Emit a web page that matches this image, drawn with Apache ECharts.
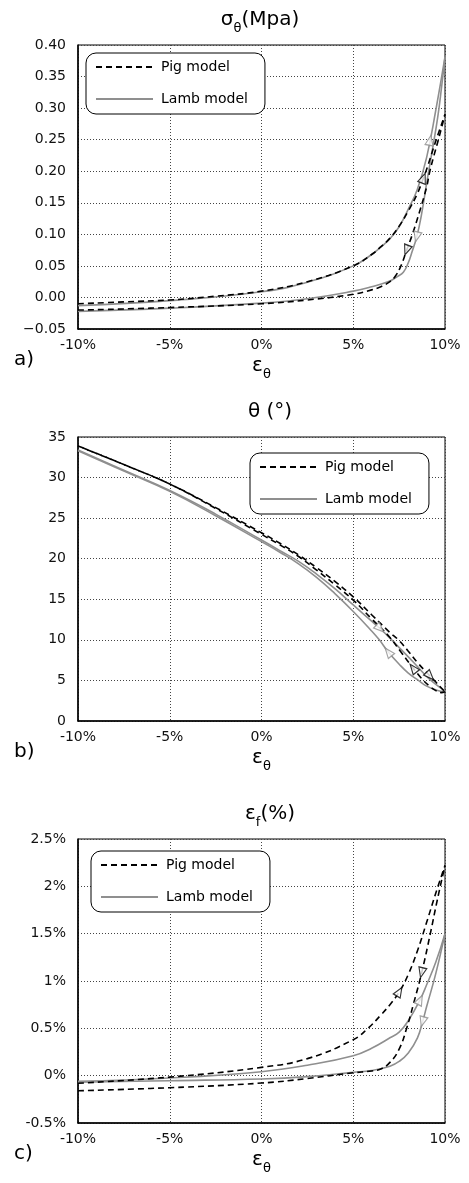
<!DOCTYPE html>
<html><head><meta charset="utf-8">
<script src="https://cdn.jsdelivr.net/npm/echarts@6/dist/echarts.min.js"></script>
<style>html,body{margin:0;padding:0;background:#fff}#c{width:469px;height:1183px}</style>
</head><body><div id="c"></div>
<script>
// ---------- DATA ----------
const xTickLabels = ['-10%', '-5%', '0%', '5%', '10%'];
const seriesNames = ['Pig model', 'Lamb model'];
const panelLetters = ['a)', 'b)', 'c)'];

// a) sigma_theta (MPa) vs eps_theta (%)
const sigmaPigLoad = [[-10,-0.010],[-7.5,-0.007],[-5,-0.004],[-2.5,0.002],[0,0.010],[2.5,0.025],[5,0.050],[6,0.068],[6.5,0.080],[7,0.094],[7.5,0.113],[8,0.137],[8.5,0.165],[8.82,0.189],[9,0.203],[9.5,0.248],[10,0.290]];
const sigmaPigUnload = [[-10,-0.020],[-5,-0.016],[0,-0.010],[2.5,-0.004],[5,0.005],[6,0.012],[6.5,0.017],[7,0.025],[7.3,0.034],[7.6,0.050],[7.91,0.075],[8.2,0.098],[8.5,0.125],[9,0.175],[9.15,0.197],[9.4,0.225],[9.64,0.250],[10,0.290]];
const sigmaLambLoad = [[-10,-0.013],[-5,-0.005],[0,0.009],[2.5,0.024],[5,0.050],[6,0.068],[6.5,0.080],[7,0.093],[7.5,0.112],[8,0.140],[8.5,0.172],[9,0.222],[9.5,0.297],[10,0.381]];
const sigmaLambUnload = [[-10,-0.022],[-5,-0.017],[0,-0.009],[2.5,-0.002],[5,0.010],[6,0.017],[7,0.026],[7.4,0.033],[7.73,0.040],[8,0.055],[8.2,0.072],[8.46,0.096],[8.7,0.128],[9.05,0.190],[9.3,0.232],[9.6,0.285],[9.8,0.330],[10,0.381]];
const sigmaArrows = [['lambLoad',9.18,1],['pigLoad',8.82,1],['lambUnload',8.46,-1],['pigUnload',7.91,-1]];

// b) theta (deg) vs eps_theta (%)
const thetaPigLoad = [[-10,33.9],[-7.5,31.6],[-5,29.2],[-2.5,26.3],[0,23.2],[1,21.9],[2,20.5],[3,18.9],[4,17.2],[5,15.3],[6,13.1],[7,10.9],[7.46,10.0],[8,8.6],[8.5,7.2],[9.18,5.55],[9.46,4.9],[9.7,4.3],[10,3.6]];
const thetaPigUnload = [[-10,33.9],[-7.5,31.6],[-5,29.2],[-2.5,26.2],[0,23.0],[1,21.7],[2,20.3],[3,18.6],[4,16.8],[5,14.9],[6,12.6],[7,10.3],[7.6,8.5],[8.27,6.5],[8.7,5.3],[9.1,4.4],[9.5,3.75],[9.8,3.5],[10,3.6]];
const thetaLambLoad = [[-10,33.4],[-7.5,30.9],[-5,28.4],[-2.5,25.5],[0,22.3],[1,21.0],[2,19.7],[3,18.1],[4,16.3],[5,14.3],[6,12.3],[6.46,11.4],[7.09,10.0],[8,7.9],[8.5,6.7],[9,5.5],[9.5,4.5],[10,3.7]];
const thetaLambUnload = [[-10,33.3],[-7.5,30.8],[-5,28.3],[-2.5,25.3],[0,22.1],[1,20.8],[2,19.4],[3,17.7],[4,15.7],[5,13.5],[6,11.1],[6.42,10.0],[6.91,8.5],[7.5,7.0],[8,5.9],[8.55,5.0],[9,4.3],[9.55,3.8],[10,3.6]];
const thetaArrows = [['pigLoad',9.18,1],['pigUnload',8.27,-1],['lambLoad',6.46,1],['lambUnload',6.91,-1]];

// c) eps_f (%) vs eps_theta (%)
const efPigLoad = [[-10,-0.08],[-5,-0.015],[0,0.088],[2.5,0.18],[5,0.38],[5.8,0.50],[6.5,0.64],[7,0.75],[7.51,0.887],[8,1.07],[8.5,1.32],[9,1.62],[9.5,1.93],[10,2.22]];
const efPigUnload = [[-10,-0.16],[-5,-0.127],[0,-0.078],[2.5,-0.03],[5,0.03],[6,0.05],[6.5,0.07],[7,0.14],[7.5,0.28],[7.91,0.50],[8.3,0.77],[8.73,1.088],[9.2,1.50],[9.58,1.856],[10,2.22]];
const efLambLoad = [[-10,-0.06],[-5,-0.025],[0,0.042],[2.5,0.11],[5,0.21],[6,0.29],[7,0.40],[7.5,0.46],[8,0.58],[8.64,0.80],[9,0.96],[9.5,1.20],[10,1.50]];
const efLambUnload = [[-10,-0.07],[-5,-0.053],[0,-0.035],[2.5,-0.01],[5,0.035],[6,0.055],[7,0.10],[7.5,0.15],[8,0.24],[8.5,0.40],[8.78,0.57],[9,0.73],[9.5,1.08],[10,1.50]];
const efArrows = [['pigLoad',7.51,1],['pigUnload',8.73,-1],['lambLoad',8.64,1],['lambUnload',8.78,-1]];

// ---------- CHART ----------
const FONT = 'DejaVu Sans';
const PIG = '#000000', LAMB = '#8f8f8f';
const panels = [
  {curves:{pigLoad:sigmaPigLoad,pigUnload:sigmaPigUnload,lambLoad:sigmaLambLoad,lambUnload:sigmaLambUnload}, arrows:sigmaArrows,
   ymin:-0.05, ymax:0.40, yint:0.05, yfmt:v=>{if(Math.abs(v)<1e-9)v=0;return v<0?'−'+Math.abs(v).toFixed(2):v.toFixed(2);},
   top:45, title:'{m|σ}{s|θ}{m|(Mpa)}', titleX:255, legend:{left:86, top:53}, dashOff:0},
  {curves:{pigLoad:thetaPigLoad,pigUnload:thetaPigUnload,lambLoad:thetaLambLoad,lambUnload:thetaLambUnload}, arrows:thetaArrows,
   ymin:0, ymax:35, yint:5, yfmt:v=>String(Math.round(v)),
   top:437, title:'{m|θ (°)}', titleX:265, legend:{left:250, top:453}, dashOff:5},
  {curves:{pigLoad:efPigLoad,pigUnload:efPigUnload,lambLoad:efLambLoad,lambUnload:efLambUnload}, arrows:efArrows,
   ymin:-0.5, ymax:2.5, yint:0.5, yfmt:v=>(Math.round(v*10)/10)+'%',
   top:839, title:'{m|ε}{s|f}{m|(%)}', titleX:265, legend:{left:91, top:851}, dashOff:0}
];
const H = 284;
const richT = {
  m:{fontSize:20, fontFamily:FONT, fontWeight:'normal', color:'#000', verticalAlign:'top', lineHeight:24},
  s:{fontSize:13, fontFamily:FONT, fontWeight:'normal', color:'#000', verticalAlign:'top', lineHeight:14, padding:[12,0,0,0]}
};
const option = {animation:false, backgroundColor:'#fff', grid:[], xAxis:[], yAxis:[], series:[], title:[], legend:[], graphic:[]};
panels.forEach((p, i) => {
  option.grid.push({left:78, right:24, top:p.top, height:H, show:true, borderColor:'#000', borderWidth:1, backgroundColor:'transparent'});
  option.xAxis.push({type:'value', gridIndex:i, min:-10, max:10, interval:5,
    axisLine:{show:true, onZero:false, lineStyle:{color:'#000', width:1.5}}, axisTick:{show:false},
    axisLabel:{fontSize:14, fontFamily:FONT, color:'#111', margin:9, formatter:v=>xTickLabels[Math.round((v+10)/5)]},
    splitLine:{show:true, lineStyle:{color:'#444', type:[1,2], width:1}},
    name:'{m|ε}{s|θ}', nameLocation:'middle', nameGap:27, nameTextStyle:{fontWeight:'normal', rich:richT}});
  option.yAxis.push({type:'value', gridIndex:i, min:p.ymin, max:p.ymax, interval:p.yint,
    axisLine:{show:true, onZero:false, lineStyle:{color:'#000', width:1.5}}, axisTick:{show:false},
    axisLabel:{fontSize:14, fontFamily:FONT, color:'#111', margin:12, formatter:p.yfmt},
    splitLine:{show:true, lineStyle:{color:'#444', type:[1,2], width:1}}});
  option.title.push({text:p.title, left:p.titleX, textAlign:'center', top:p.top-40, textStyle:{fontWeight:'normal', rich:richT}});
  option.legend.push({show:true, left:p.legend.left, top:p.legend.top, orient:'vertical', data:seriesNames,
    itemWidth:57, itemHeight:14, itemGap:18, padding:[7,17,8,9], borderColor:'#000', borderWidth:1, borderRadius:10,
    backgroundColor:'#fff', selectedMode:false, itemStyle:{opacity:0},
    textStyle:{fontSize:14, fontFamily:FONT, color:'#000', padding:[0,0,0,3]}});
  option.graphic.push({type:'text', left:14, top:p.top+H+21, style:{text:panelLetters[i], font:'20px "DejaVu Sans"', fill:'#000'}});
  const mk = (key, name, color, dashed, off) => ({type:'line', name, xAxisIndex:i, yAxisIndex:i, data:p.curves[key],
    symbol:'none', smooth:0.45, lineStyle:{color, width:1.6, type: dashed?[6,4]:'solid', dashOffset:off||0}, itemStyle:{color}, z:dashed?3:2});
  option.series.push(mk('lambLoad','Lamb model',LAMB,false), mk('lambUnload','Lamb model',LAMB,false),
                     mk('pigLoad','Pig model',PIG,true,0), mk('pigUnload','Pig model',PIG,true,p.dashOff));
});
const chart = echarts.init(document.getElementById('c'), null, {renderer:'canvas'});
chart.setOption(option);

// arrows: hollow triangles placed on the curves, oriented along the path direction
function interp(arr, x){
  for (let k=0;k<arr.length-1;k++){ const a=arr[k], b=arr[k+1];
    if ((x>=a[0]&&x<=b[0])||(x<=a[0]&&x>=b[0])) return a[1]+(b[1]-a[1])*(x-a[0])/(b[0]-a[0]); }
  return arr[arr.length-1][1];
}
const arrowSeries = [];
panels.forEach((p, i) => {
  const data = p.arrows.map(([key, x, dir]) => {
    const arr = p.curves[key]; const y = interp(arr, x);
    const p1 = chart.convertToPixel({gridIndex:i}, [x-0.12, interp(arr, x-0.12)]);
    const p2 = chart.convertToPixel({gridIndex:i}, [x+0.12, interp(arr, x+0.12)]);
    let dx = (p2[0]-p1[0])*dir, dy = (p2[1]-p1[1])*dir;
    const rot = Math.atan2(-dx, -dy)*180/Math.PI;
    const col = key.startsWith('pig') ? PIG : LAMB;
    return {value:[x, y], symbolRotate:rot, itemStyle:{color:'#fff', borderColor:col, borderWidth:1.2}};
  });
  arrowSeries.push({type:'scatter', xAxisIndex:i, yAxisIndex:i, symbol:'triangle', symbolSize:[8,10], data, z:5, silent:true});
});
chart.setOption({series: option.series.concat(arrowSeries)});
</script></body></html>
